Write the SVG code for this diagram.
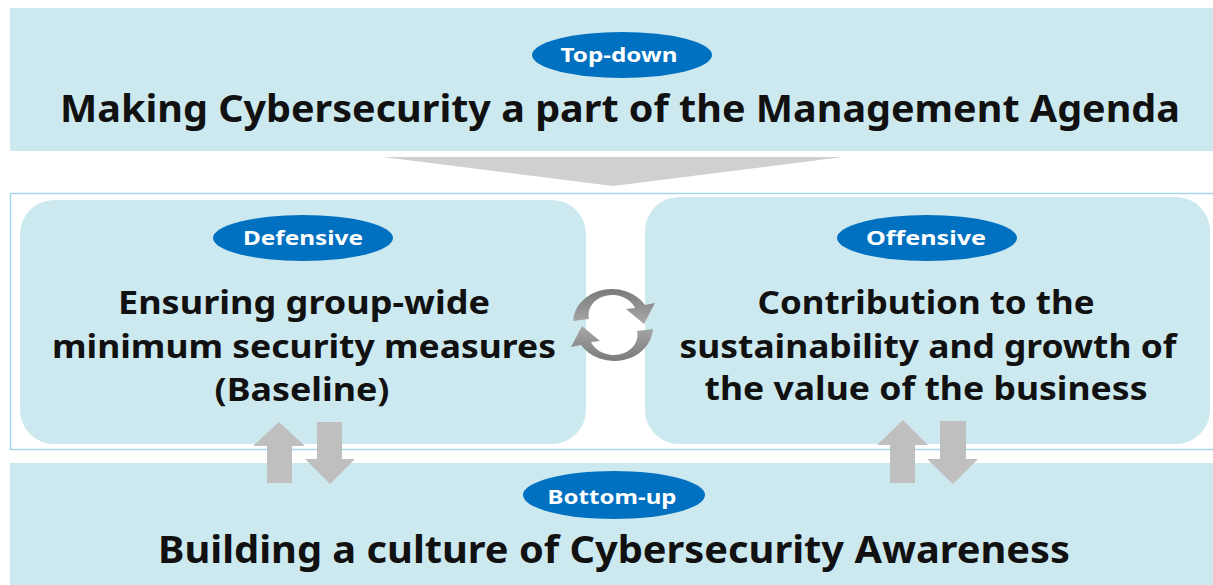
<svg xmlns="http://www.w3.org/2000/svg" width="1213" height="585" viewBox="0 0 1213 585">
<style>
.band{fill:#CDE9F0;}
.pill{fill:#0070C0;}
.pilltxt{font-family:"Noto Sans","Liberation Sans",sans-serif;font-weight:700;font-size:20px;fill:#FFFFFF;text-anchor:middle;}
.big{font-family:"Noto Sans","Liberation Sans",sans-serif;font-weight:700;font-size:37px;fill:#111111;text-anchor:middle;}
.mid{font-family:"Noto Sans","Liberation Sans",sans-serif;font-weight:700;font-size:32px;fill:#111111;text-anchor:middle;}
.gray{fill:#BFBFBF;}
</style>
<defs>
<linearGradient id="cyc" x1="0" y1="0" x2="0" y2="1">
<stop offset="0" stop-color="#7A7A7A"/>
<stop offset="1" stop-color="#A8A8A8"/>
</linearGradient>
</defs>
<rect width="1213" height="585" fill="#FFFFFF"/>

<g id="top-band">
<rect class="band" x="10" y="8" width="1203" height="143"/>
<ellipse class="pill" cx="622" cy="55" rx="90" ry="23"/>
<text class="pilltxt" x="619" y="62" textLength="117" lengthAdjust="spacingAndGlyphs">Top-down</text>
<text class="big" x="620" y="122" textLength="1120" lengthAdjust="spacingAndGlyphs">Making Cybersecurity a part of the Management Agenda</text>
</g>

<g id="frame">
<rect x="10.5" y="193.5" width="1210" height="256" fill="#FFFFFF" stroke="#A6D8EA" stroke-width="1.5"/>
</g>

<g id="defensive">
<rect class="band" x="20" y="200" width="566" height="244" rx="34" ry="34"/>
<ellipse class="pill" cx="303" cy="238" rx="90" ry="23"/>
<text class="pilltxt" x="303" y="245" textLength="120" lengthAdjust="spacingAndGlyphs">Defensive</text>
<text class="mid" x="304" y="314" textLength="372" lengthAdjust="spacingAndGlyphs">Ensuring group-wide</text>
<text class="mid" x="304" y="358" textLength="504" lengthAdjust="spacingAndGlyphs">minimum security measures</text>
<text class="mid" x="302" y="401" textLength="175" lengthAdjust="spacingAndGlyphs">(Baseline)</text>
</g>

<g id="offensive">
<rect class="band" x="645" y="197" width="565" height="247" rx="34" ry="34"/>
<ellipse class="pill" cx="927" cy="238" rx="90" ry="23"/>
<text class="pilltxt" x="926" y="245" textLength="120" lengthAdjust="spacingAndGlyphs">Offensive</text>
<text class="mid" x="926" y="314" textLength="337" lengthAdjust="spacingAndGlyphs">Contribution to the</text>
<text class="mid" x="928" y="358" textLength="497" lengthAdjust="spacingAndGlyphs">sustainability and growth of</text>
<text class="mid" x="926" y="400" textLength="443" lengthAdjust="spacingAndGlyphs">the value of the business</text>
</g>

<g id="bottom-band">
<rect class="band" x="10" y="463" width="1203" height="122"/>
<ellipse class="pill" cx="614" cy="495" rx="91" ry="24"/>
<text class="pilltxt" x="612" y="504" textLength="129" lengthAdjust="spacingAndGlyphs">Bottom-up</text>
<text class="big" x="614" y="563" textLength="912" lengthAdjust="spacingAndGlyphs">Building a culture of Cybersecurity Awareness</text>
</g>

<g id="connectors">
<polygon id="funnel" points="383,157 843,157 613,186" fill="#D0D0D0"/>
<g id="cycle" fill="url(#cyc)">
<path d="M 573 321 A 39 34 0 0 1 645 305 L 655 303 L 644 324 L 626 309 L 635 308 A 24 20 0 0 0 589 319 Z"/>
<path d="M 573 321 A 39 34 0 0 1 645 305 L 655 303 L 644 324 L 626 309 L 635 308 A 24 20 0 0 0 589 319 Z" transform="rotate(180 613 325)"/>
</g>
<g id="left-arrows">
<polygon class="gray" points="279,422 305,446 292,446 292,483 267,483 267,446 253,446"/>
<polygon class="gray" points="317,422 342,422 342,459 355,459 330,484 305,459 317,459"/>
</g>
<g id="right-arrows">
<polygon class="gray" points="903,420 928,445 915,445 915,483 890,483 890,445 877,445"/>
<polygon class="gray" points="940,421 966,421 966,459 978,459 953,484 927,459 940,459"/>
</g>
</g>
</svg>
